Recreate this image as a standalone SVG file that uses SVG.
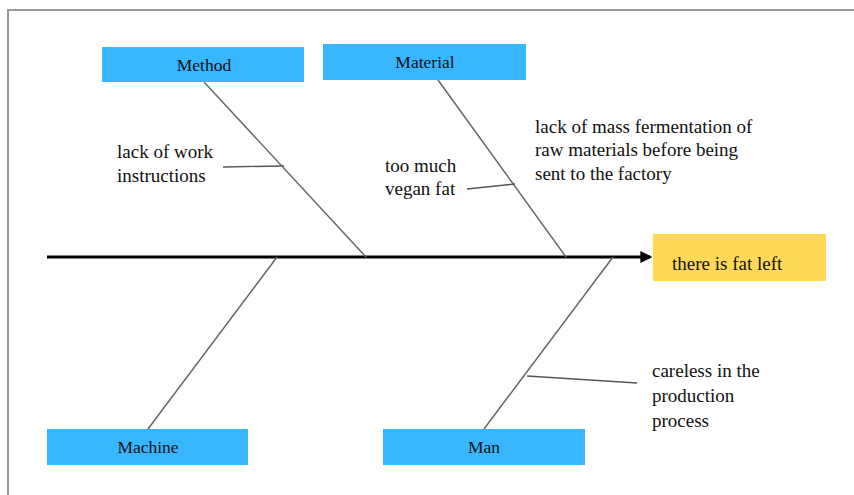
<svg xmlns="http://www.w3.org/2000/svg" width="854" height="495" viewBox="0 0 854 495">
<style>
.box{fill:#38B6FF;}
.eff{fill:#FFD955;}
.t{font-family:'Liberation Serif','DejaVu Serif',serif;font-size:19px;fill:#111;}
.bl{font-family:'Liberation Serif','DejaVu Serif',serif;font-size:17.5px;fill:#111;text-anchor:middle;}
.bone{stroke:#666;stroke-width:1.5;fill:none;}
.tw{stroke:#555;stroke-width:1.3;fill:none;}
</style>
<defs>
<marker id="ah" viewBox="0 0 10 10" refX="8" refY="5" markerWidth="4" markerHeight="4" orient="auto" markerUnits="strokeWidth">
<path d="M0,0 L10,5 L0,10 z" fill="#000"/>
</marker>
</defs>
<rect x="0" y="0" width="854" height="495" fill="#fff"/>
<path d="M8,495 L8,10 L854,10" stroke="#999" stroke-width="2" fill="none"/>
<g id="connectors">
<line x1="47" y1="257" x2="650" y2="257" stroke="#000" stroke-width="3" marker-end="url(#ah)"/>
<line class="bone" x1="204" y1="82" x2="366" y2="257"/>
<line class="bone" x1="438" y1="80" x2="566" y2="257"/>
<line class="bone" x1="277" y1="257" x2="148" y2="429"/>
<line class="bone" x1="613" y1="257" x2="484" y2="429"/>
<line class="tw" x1="223" y1="167" x2="284" y2="166"/>
<line class="tw" x1="467" y1="189" x2="515" y2="184"/>
<line class="tw" x1="527" y1="376" x2="637" y2="383"/>
</g>
<g id="method"><rect class="box" x="102" y="47" width="202" height="35"/><text class="bl" x="204" y="71">Method</text></g>
<g id="material"><rect class="box" x="323" y="44" width="203" height="36"/><text class="bl" x="425" y="68">Material</text></g>
<g id="machine"><rect class="box" x="47" y="429" width="201" height="36"/><text class="bl" x="148" y="453">Machine</text></g>
<g id="man"><rect class="box" x="383" y="429" width="202" height="36"/><text class="bl" x="484" y="453">Man</text></g>
<g id="effect"><rect class="eff" x="653" y="234" width="173" height="47"/><text class="t" x="672" y="270">there is fat left</text></g>
<g id="cause-work"><text class="t" x="117" y="158">lack of work</text><text class="t" x="117" y="182">instructions</text></g>
<g id="cause-vegan"><text class="t" x="385" y="172">too much</text><text class="t" x="385" y="195">vegan fat</text></g>
<g id="cause-fermentation"><text class="t" x="535" y="133">lack of mass fermentation of</text><text class="t" x="535" y="156">raw materials before being</text><text class="t" x="535" y="180">sent to the factory</text></g>
<g id="cause-careless"><text class="t" x="652" y="377">careless in the</text><text class="t" x="652" y="402">production</text><text class="t" x="652" y="427">process</text></g>
</svg>
